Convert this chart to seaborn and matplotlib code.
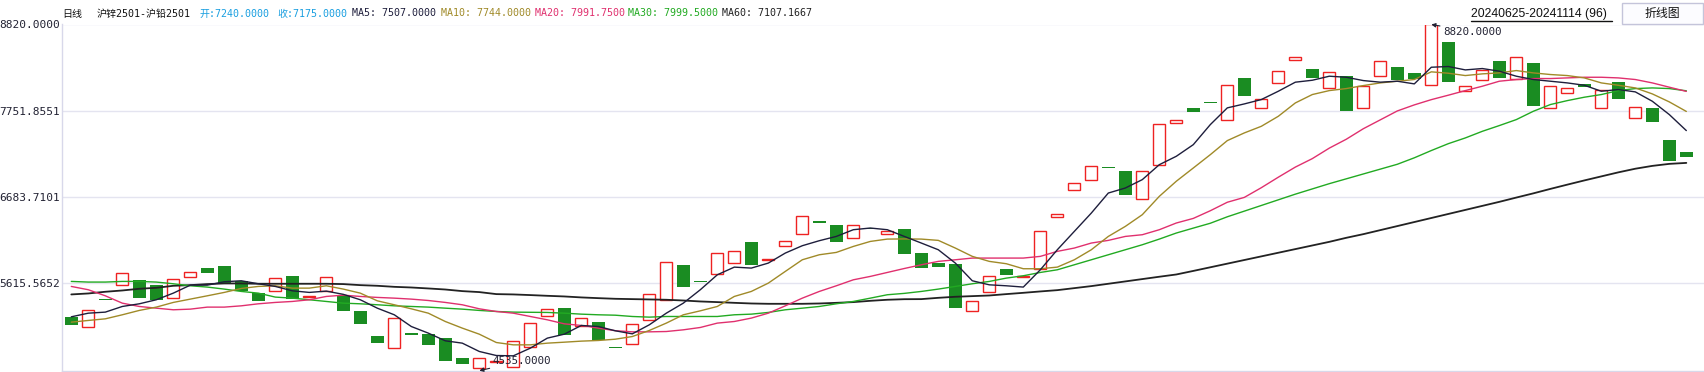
import numpy as np
import pandas as pd
import matplotlib
matplotlib.use("Agg")
import matplotlib.pyplot as plt
from matplotlib.patches import Rectangle
from matplotlib.lines import Line2D
import seaborn as sns

# candle bodies (open / close), 96 trading days
opens = [5202, 5074, 5425, 5595, 5660, 5595, 5433, 5690, 5810, 5834,
         5644, 5500, 5516, 5710, 5450, 5516, 5467, 5277, 4967, 4814,
         5004, 4992, 4942, 4694, 4566, 4642, 4579, 4827, 5211, 5314,
         5083, 5140, 4831, 4864, 5161, 5409, 5847, 5638, 5731, 5867,
         6132, 5900, 6082, 6231, 6392, 6342, 6177, 6301, 6227, 6293,
         5995, 5871, 5859, 5273, 5508, 5797, 5700, 5797, 6437, 6772,
         6896, 7050, 7011, 6660, 7082, 7602, 7792, 7862, 7639, 8163,
         7788, 8097, 8382, 8275, 8035, 8188, 7788, 8184, 8300, 8225,
         8073, 8609, 7994, 8134, 8374, 8147, 8349, 7783, 7973, 8089,
         7788, 8114, 7664, 7792, 7395, 7240]
closes = [5095, 5285, 5405, 5743, 5429, 5405, 5669, 5756, 5747, 5619,
          5524, 5392, 5681, 5421, 5462, 5690, 5269, 5107, 4884, 5186,
          4971, 4847, 4661, 4624, 4690, 4655, 4901, 5124, 5297, 4979,
          5186, 4917, 4810, 5112, 5483, 5880, 5566, 5628, 5991, 6016,
          5838, 5910, 6140, 6450, 6359, 6123, 6338, 6289, 6264, 5975,
          5801, 5814, 5306, 5397, 5706, 5714, 5712, 6264, 6475, 6859,
          7069, 7040, 6706, 7007, 7589, 7637, 7742, 7845, 8073, 7932,
          7899, 8246, 8419, 8155, 8234, 7746, 8064, 8370, 8130, 8143,
          8820, 8106, 8060, 8258, 8155, 8419, 7808, 8060, 8035, 8052,
          8011, 7895, 7804, 7610, 7127, 7175]

ma5 = [5202, 5247, 5260, 5330, 5363, 5413, 5495, 5594, 5594, 5636,
       5648, 5611, 5578, 5524, 5504, 5520, 5480, 5413, 5309, 5227,
       5082, 5000, 4905, 4876, 4773, 4723, 4719, 4814, 4938, 4987,
       5095, 5082, 5029, 4991, 5103, 5247, 5371, 5537, 5722, 5817,
       5805, 5867, 5991, 6082, 6144, 6197, 6280, 6301, 6280, 6197,
       6115, 6032, 5867, 5648, 5598, 5586, 5570, 5784, 6032, 6259,
       6486, 6734, 6796, 6900, 7085, 7189, 7333, 7581, 7788, 7837,
       7891, 7994, 8106, 8130, 8180, 8167, 8126, 8106, 8118, 8085,
       8291, 8300, 8258, 8275, 8242, 8180, 8139, 8118, 8097, 8068,
       7994, 8015, 7986, 7870, 7705, 7507]
ma10 = [5136, 5157, 5177, 5227, 5281, 5322, 5380, 5421, 5462, 5504,
        5553, 5578, 5586, 5557, 5557, 5586, 5545, 5495, 5400, 5351,
        5301, 5247, 5144, 5062, 4987, 4884, 4855, 4855, 4876, 4888,
        4901, 4909, 4925, 4958, 5033, 5124, 5227, 5276, 5330, 5454,
        5516, 5619, 5764, 5908, 5970, 5999, 6073, 6135, 6164, 6166,
        6164, 6148, 6053, 5950, 5888, 5859, 5797, 5797, 5817, 5908,
        6032, 6197, 6321, 6466, 6693, 6880, 7044, 7209, 7383, 7478,
        7560, 7684, 7849, 7953, 8002, 8027, 8064, 8097, 8118, 8139,
        8234, 8217, 8188, 8209, 8221, 8250, 8221, 8201, 8188, 8159,
        8097, 8068, 8035, 7961, 7862, 7744]
ma20 = [5578, 5537, 5462, 5371, 5330, 5309, 5289, 5297, 5322, 5322,
        5338, 5363, 5380, 5392, 5413, 5454, 5470, 5454, 5442, 5433,
        5421, 5404, 5380, 5351, 5301, 5268, 5247, 5206, 5165, 5115,
        5095, 5062, 5030, 5016, 5016, 5020, 5041, 5070, 5124, 5144,
        5186, 5247, 5338, 5433, 5516, 5586, 5660, 5702, 5751, 5800,
        5846, 5888, 5908, 5929, 5929, 5929, 5929, 5950, 6012, 6053,
        6115, 6148, 6197, 6218, 6280, 6363, 6420, 6515, 6620, 6680,
        6800, 6930, 7055, 7160, 7290, 7400, 7530, 7640, 7750, 7825,
        7890, 7945, 8002, 8056, 8118, 8139, 8151, 8151, 8159, 8167,
        8167, 8159, 8139, 8097, 8044, 7992]
ma30 = [5640, 5632, 5632, 5640, 5640, 5632, 5611, 5586, 5570, 5545,
        5516, 5495, 5446, 5433, 5413, 5392, 5371, 5363, 5351, 5338,
        5330, 5322, 5309, 5297, 5281, 5268, 5260, 5258, 5256, 5247,
        5235, 5227, 5222, 5206, 5198, 5206, 5206, 5206, 5206, 5227,
        5235, 5256, 5289, 5309, 5330, 5363, 5392, 5433, 5475, 5492,
        5516, 5545, 5578, 5611, 5640, 5681, 5710, 5751, 5784, 5846,
        5908, 5970, 6032, 6094, 6164, 6239, 6300, 6360, 6440, 6510,
        6580, 6650, 6720, 6785, 6850, 6910, 6970, 7030, 7090, 7170,
        7260, 7345, 7416, 7498, 7569, 7643, 7746, 7829, 7878, 7920,
        7953, 8002, 8027, 8035, 8027, 7999.5]
ma60 = [5479, 5491, 5512, 5528, 5549, 5561, 5586, 5594, 5607, 5615,
        5615, 5611, 5611, 5611, 5611, 5611, 5607, 5594, 5586, 5573,
        5565, 5553, 5540, 5520, 5508, 5483, 5479, 5471, 5462, 5454,
        5442, 5433, 5425, 5421, 5417, 5413, 5404, 5392, 5384, 5375,
        5367, 5363, 5363, 5363, 5367, 5375, 5384, 5400, 5413, 5420,
        5421, 5437, 5450, 5458, 5466, 5483, 5499, 5516, 5532, 5557,
        5582, 5611, 5640, 5669, 5698, 5726, 5770, 5815, 5860, 5905,
        5950, 5995, 6040, 6085, 6130, 6180, 6225, 6275, 6325, 6375,
        6425, 6475, 6525, 6575, 6625, 6678, 6730, 6785, 6838, 6890,
        6940, 6990, 7035, 7070, 7095, 7107]

ytick_vals = [8820.0, 7751.8551, 6683.7101, 5615.5652]
y_low, y_high = 4535.0, 8820.0

df = pd.DataFrame({"open": opens, "close": closes, "MA5": ma5, "MA10": ma10,
                   "MA20": ma20, "MA30": ma30, "MA60": ma60})
df["day"] = np.arange(len(df))
up = df[df["close"] >= df["open"]]
down = df[df["close"] < df["open"]]

sns.set_theme(style="white")
plt.rcParams["font.family"] = ["DejaVu Sans Mono", "Noto Sans CJK SC"]

RED = "#ee2222"
GREEN = "#1a8c22"
ma_colors = {"MA5": "#1e1e3c", "MA10": "#a08a28", "MA20": "#e0306e",
             "MA30": "#22aa22", "MA60": "#222222"}

W, H = 1704, 372
fig = plt.figure(figsize=(W / 100, H / 100), dpi=100)
ax = fig.add_axes([62 / W, 1 - 370.7 / H, (W - 62) / W, (370.7 - 24.5) / H])

# candle bodies
ax.bar(down["day"], (down["open"] - down["close"]).clip(lower=12),
       bottom=down["close"], width=0.74, color=GREEN, linewidth=0, zorder=3)
ax.bar(up["day"], (up["close"] - up["open"]).clip(lower=12),
       bottom=up["open"], width=0.70, facecolor="white", edgecolor=RED,
       linewidth=1.0, zorder=3)

# moving averages
for name in ["MA60", "MA30", "MA20", "MA10", "MA5"]:
    lw = 1.3 if name == "MA60" else 1.0
    sns.lineplot(data=df, x="day", y=name, ax=ax, color=ma_colors[name],
                 linewidth=lw, zorder=4)

ax.set_xlim(-0.547, 96.04)
ax.set_ylim(y_low, y_high)
ax.set_yticks(ytick_vals)
ax.set_yticklabels([f"{v:.4f}" for v in ytick_vals])
ax.set_xticks([])
ax.set_xlabel("")
ax.set_ylabel("")
ax.tick_params(axis="y", length=0, pad=1.5, labelsize=8, labelcolor="#222233")
ax.grid(axis="y", color="#e4e4f0", linewidth=1.0)
ax.set_axisbelow(True)
for s in ["top", "right"]:
    ax.spines[s].set_visible(False)
for s in ["left", "bottom"]:
    ax.spines[s].set_color("#d8d8ea")
    ax.spines[s].set_linewidth(1.0)

# high / low markers
ax.annotate("8820.0000", xy=(80, 8820), xytext=(80.7, 8733), fontsize=7.8,
            color="#222233", va="center", ha="left", annotation_clip=False,
            arrowprops=dict(arrowstyle="-|>", color="#222233", lw=0.8,
                            mutation_scale=6, shrinkA=0, shrinkB=0))
ax.annotate("4535.0000", xy=(24, 4535), xytext=(24.8, 4657), fontsize=7.8,
            color="#222233", va="center", ha="left", annotation_clip=False,
            arrowprops=dict(arrowstyle="-|>", color="#222233", lw=0.8,
                            mutation_scale=6, shrinkA=0, shrinkB=0))

# header line
ty = 1 - 13.5 / H
header = [(62, "日线", "#111111"),
          (97, "沪锌2501-沪铅2501", "#111111"),
          (200, "开:7240.0000", "#1a9fe0"),
          (277, "收:7175.0000", "#1a9fe0"),
          (352, "MA5: 7507.0000", ma_colors["MA5"]),
          (441, "MA10: 7744.0000", ma_colors["MA10"]),
          (535, "MA20: 7991.7500", ma_colors["MA20"]),
          (628, "MA30: 7999.5000", ma_colors["MA30"]),
          (722, "MA60: 7107.1667", ma_colors["MA60"])]
for px, txt, col in header:
    fig.text(px / W, ty, txt, fontsize=7.2, color=col, ha="left", va="center")

# date range (underlined) and the switch button
fig.text(1471 / W, ty, "20240625-20241114 (96)", fontsize=8.8, color="#111111",
         ha="left", va="center", family=["Liberation Sans", "DejaVu Sans"])
fig.add_artist(Line2D([1471 / W, 1612 / W], [1 - 20.5 / H, 1 - 20.5 / H],
                      color="#111111", linewidth=1.0))
fig.add_artist(Rectangle((1622 / W, 1 - 24 / H), 81 / W, 21 / H,
                         facecolor="#fcfcff", edgecolor="#c4c4da", linewidth=1.0,
                         transform=fig.transFigure))
fig.text(1662 / W, ty, "折线图", fontsize=8.6, color="#111111", ha="center",
         va="center", family=["Noto Sans CJK SC", "DejaVu Sans"])

fig.savefig("out.png", dpi=100)
